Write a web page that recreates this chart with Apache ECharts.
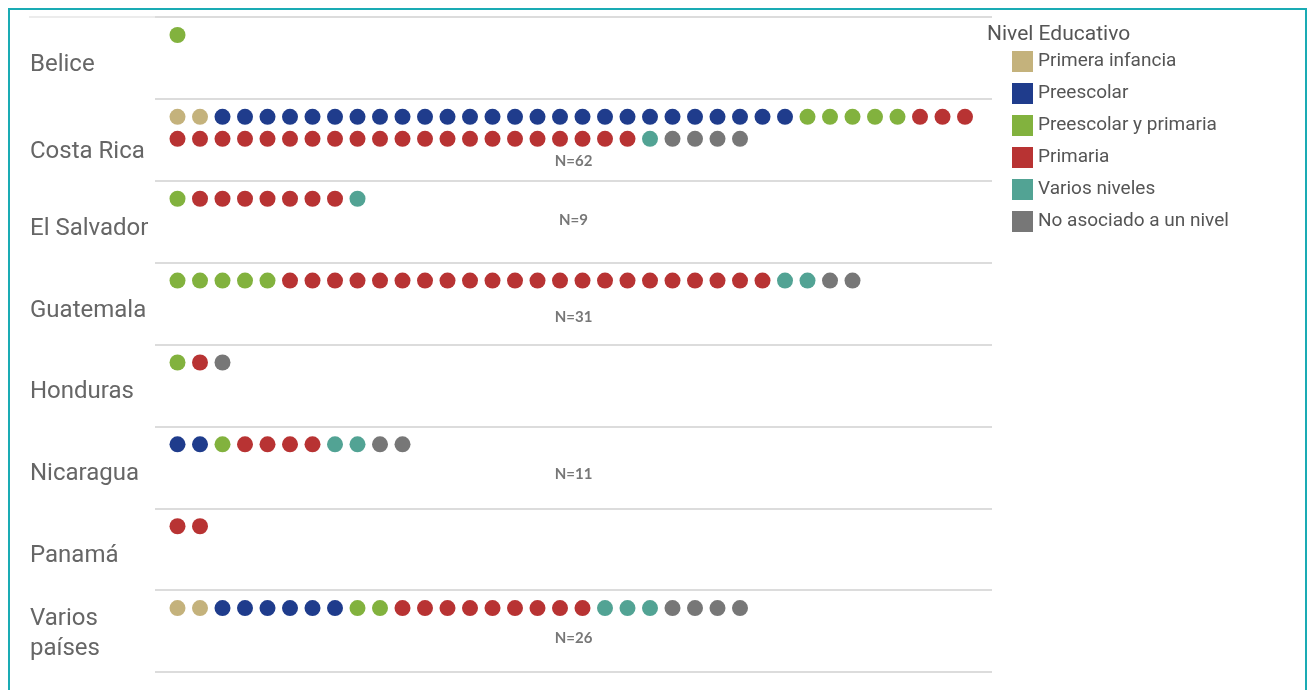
<!DOCTYPE html>
<html>
<head>
<meta charset="utf-8">
<script src="https://cdn.jsdelivr.net/npm/echarts@6/dist/echarts.min.js"></script>
<style>
html,body{margin:0;padding:0;background:#fff;}
#chart{width:1310px;height:690px;}
</style>
</head>
<body>
<div id="chart"></div>
<script>
// ---- DATA ----
const countries = ['Belice', 'Costa Rica', 'El Salvador', 'Guatemala', 'Honduras', 'Nicaragua', 'Panamá', 'Varios\npaíses'];
const levelNames = ['Primera infancia', 'Preescolar', 'Preescolar y primaria', 'Primaria', 'Varios niveles', 'No asociado a un nivel'];
const primeraInfancia     = [0, 2, 0, 0, 0, 0, 0, 2];
const preescolar          = [0, 26, 0, 0, 0, 2, 0, 6];
const preescolarPrimaria  = [1, 5, 1, 5, 1, 1, 0, 2];
const primaria            = [0, 24, 7, 22, 1, 4, 2, 9];
const variosNiveles       = [0, 1, 1, 2, 0, 2, 0, 3];
const noAsociado          = [0, 4, 0, 2, 1, 2, 0, 4];
const nLabels = ['', 'N=62', 'N=9', 'N=31', '', 'N=11', '', 'N=26'];

// ---- STYLE / LAYOUT ----
const levelColors = ['#C4B27C', '#1F3C8C', '#82B23E', '#B83333', '#52A394', '#777777'];
const dotsPerRow = 36;
const bandPx = 82;
const firstRowOffset = 18 / bandPx;
const rowStep = 22 / bandPx;
const nLabelOffsetPx = [0, 62, 39, 55, 0, 48, 0, 48];
const labelPadTop = [14, 24, 14, 14, 14, 14, 14, 6];
const xMin = -1, xMax = 36.2;

const levelCounts = [primeraInfancia, preescolar, preescolarPrimaria, primaria, variosNiveles, noAsociado];

const seriesData = levelNames.map(() => []);
countries.forEach((c, ci) => {
  let pos = 0;
  levelCounts.forEach((arr, li) => {
    for (let k = 0; k < arr[ci]; k++) {
      const row = Math.floor(pos / dotsPerRow);
      const col = pos % dotsPerRow;
      seriesData[li].push([col, ci + firstRowOffset + row * rowStep]);
      pos++;
    }
  });
});

const series = levelNames.map((name, li) => ({
  name: name,
  type: 'scatter',
  xAxisIndex: 0,
  yAxisIndex: 1,
  symbol: 'circle',
  symbolSize: 16,
  itemStyle: { color: levelColors[li], opacity: 1 },
  data: seriesData[li],
  silent: true
}));

const nData = [];
countries.forEach((c, ci) => {
  if (nLabels[ci]) nData.push({ name: nLabels[ci], value: [(xMin + xMax) / 2, ci + nLabelOffsetPx[ci] / bandPx] });
});
series.push({
  name: 'N',
  type: 'scatter',
  xAxisIndex: 0,
  yAxisIndex: 1,
  symbolSize: 0,
  silent: true,
  data: nData,
  label: {
    show: true,
    position: 'inside',
    formatter: p => p.name,
    fontFamily: 'Lato, "Open Sans", sans-serif',
    fontWeight: 'bold',
    fontSize: 15,
    color: '#555'
  }
});

const labelRich = {};
labelPadTop.forEach((p, i) => {
  labelRich['l' + i] = {
    fontFamily: 'Roboto, sans-serif',
    fontSize: 24,
    lineHeight: 30,
    color: '#666',
    padding: [p, 0, 0, 0]
  };
});

const chart = echarts.init(document.getElementById('chart'), null, { renderer: 'canvas' });
chart.setOption({
  animation: false,
  backgroundColor: '#fff',
  title: {
    text: 'Nivel Educativo',
    left: 987,
    top: 24,
    padding: 0,
    textStyle: { fontFamily: 'Roboto, sans-serif', fontSize: 21, fontWeight: 'normal', color: '#555' }
  },
  legend: {
    data: levelNames,
    orient: 'vertical',
    left: 1012,
    top: 51,
    padding: 0,
    itemWidth: 21,
    itemHeight: 21,
    itemGap: 11,
    icon: 'rect',
    textStyle: { fontFamily: 'Roboto, sans-serif', fontSize: 19, color: '#555' },
    selectedMode: false
  },
  grid: { left: 155, right: 318, top: 17, bottom: 18 },
  xAxis: { type: 'value', min: xMin, max: xMax, show: false },
  yAxis: [
    {
      type: 'category',
      data: countries,
      inverse: true,
      boundaryGap: true,
      axisLine: { show: false },
      axisTick: { show: false },
      splitLine: { show: true, lineStyle: { color: '#dcdcdc', width: 2 } },
      axisLabel: {
        align: 'left',
        margin: 125,
        formatter: (v, i) => v.split('\n').map(s => '{l' + i + '|' + s + '}').join('\n'),
        rich: labelRich
      }
    },
    { type: 'value', min: 0, max: 8, inverse: true, show: false }
  ],
  graphic: [
    {
      type: 'rect',
      shape: { x: 9, y: 9, width: 1297, height: 700 },
      style: { fill: 'none', stroke: '#1AABB4', lineWidth: 2 },
      silent: true
    },
    {
      type: 'line',
      shape: { x1: 29, y1: 17, x2: 155, y2: 17 },
      style: { stroke: '#ececec', lineWidth: 2 },
      silent: true
    }
  ],
  series: series
});
</script>
</body>
</html>
